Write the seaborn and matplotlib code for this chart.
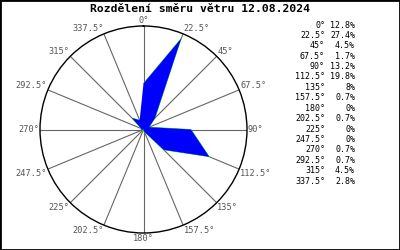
import numpy as np
import pandas as pd
import matplotlib
matplotlib.use("Agg")
import matplotlib.pyplot as plt
import matplotlib.transforms as mtransforms
import seaborn as sns
from matplotlib.patches import Rectangle

directions = [0, 22.5, 45, 67.5, 90, 112.5, 135, 157.5, 180, 202.5, 225, 247.5, 270, 292.5, 315, 337.5]
dir_labels = ["0°", "22.5°", "45°", "67.5°", "90°", "112.5°", "135°", "157.5°", "180°",
              "202.5°", "225°", "247.5°", "270°", "292.5°", "315°", "337.5°"]
percent = [12.8, 27.4, 4.5, 1.7, 13.2, 19.8, 8, 0.7, 0, 0.7, 0, 0, 0.7, 0.7, 4.5, 2.8]
pct_labels = ["12.8%", "27.4%", "4.5%", "1.7%", "13.2%", "19.8%", "8%", "0.7%", "0%",
              "0.7%", "0%", "0%", "0.7%", "0.7%", "4.5%", "2.8%"]
title = "Rozdělení směru větru 12.08.2024"

sns.set_style("white")
plt.rcParams['font.family'] = ['DejaVu Sans Mono']

fig = plt.figure(figsize=(4, 2.5), dpi=100)
fig.patch.set_facecolor("white")
ax = fig.add_axes([0.1, 0.068, 0.5175, 0.828], projection="polar")
ax.set_theta_zero_location("N")
ax.set_theta_direction(-1)

df = pd.DataFrame({"theta": np.deg2rad(directions + [directions[0]]),
                   "r": percent + [percent[0]]})

ax.fill(df["theta"], df["r"], color="#0000ff", lw=0, zorder=3)
sns.lineplot(data=df, x="theta", y="r", sort=False, color="#00dd00", lw=0.5, ax=ax, zorder=2)

rmax = 28.8
ax.set_rlim(0, rmax)
ax.set_yticks([])
ax.set_thetagrids(directions, [""] * len(directions))
ax.tick_params(axis="x", pad=0, length=0)
ax.xaxis.grid(True, color="#666666", lw=0.8)
ax.spines["polar"].set_color("black")
ax.spines["polar"].set_linewidth(1.0)
ax.set_xlabel("")
ax.set_ylabel("")

for d, lab in zip(directions, dir_labels):
    s, c = np.sin(np.deg2rad(d)), np.cos(np.deg2rad(d))
    ha = "left" if s > 0.1 else ("right" if s < -0.1 else "center")
    va = "bottom" if c > 0.1 else ("top" if c < -0.1 else "center")
    tr = mtransforms.offset_copy(ax.transData, fig=fig, x=1.0 * s, y=1.0 * c, units="dots")
    ax.text(np.deg2rad(d), rmax, lab, ha=ha, va=va, fontsize=6.2, color="#555555",
            transform=tr, clip_on=False)

fig.text(0.5, 1 - 8.5 / 250, title, ha="center", va="center", fontsize=8.2, fontweight="bold", color="black")

y0 = 1 - 25 / 250
dy = 10.4 / 250
for i, (a, p) in enumerate(zip(dir_labels, pct_labels)):
    y = y0 - i * dy
    fig.text(325 / 400, y, a, ha="right", va="center", fontsize=6, color="black")
    fig.text(355 / 400, y, p, ha="right", va="center", fontsize=6, color="black")

fig.add_artist(Rectangle((0, 0), 1, 1, transform=fig.transFigure, fill=False,
                         edgecolor="black", lw=2))

fig.savefig("out.png", dpi=100)
